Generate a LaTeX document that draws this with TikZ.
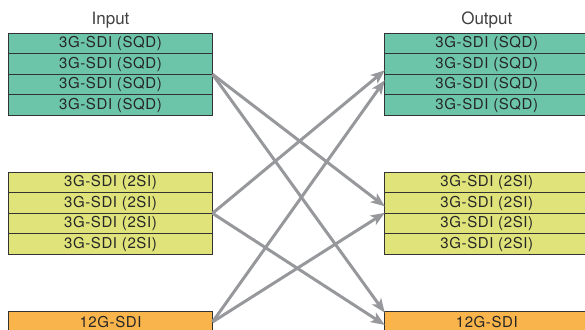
\documentclass[tikz,border=0pt]{standalone}
\usepackage{fontspec}
\setmainfont{TeX Gyre Heros}
\usetikzlibrary{arrows.meta,positioning}
\definecolor{sqdgreen}{HTML}{6CC5A9}
\definecolor{sisyellow}{HTML}{DFE37A}
\definecolor{twelveorange}{HTML}{F9B54B}
\definecolor{linkgray}{HTML}{97989B}
\tikzset{
	port/.style = {draw = black!80, line width = 0.9pt, minimum width = 204pt, minimum height = 20.5pt,
		inner sep = 0pt, outer sep = 0pt, text = black!85,
		font = \fontsize{15}{15}\selectfont\addfontfeature{LetterSpace=4}},
	sqd/.style = {port, fill = sqdgreen},
	twosi/.style = {port, fill = sisyellow},
	twelveg/.style = {port, fill = twelveorange},
	heading/.style = {inner sep = 0pt, text = black!75, font = \fontsize{17}{17}\selectfont},
	link/.style = {-{Stealth[length = 14pt, width = 11pt, inset = 3.5pt]}, line width = 3pt, color = linkgray}
}

\begin{document}
\begin{tikzpicture}
	\useasboundingbox (0pt,0pt) rectangle (585pt,-329pt);

	% inputs
	\node (in1) [sqd] at (110.5pt,-43.55pt) {3G-SDI (SQD)};
	\node (in2) [sqd, below=0pt of in1] {3G-SDI (SQD)};
	\node (in3) [sqd, below=0pt of in2] {3G-SDI (SQD)};
	\node (in4) [sqd, below=0pt of in3] {3G-SDI (SQD)};
	\node (in5) [twosi, below=57pt of in4] {3G-SDI (2SI)};
	\node (in6) [twosi, below=0pt of in5] {3G-SDI (2SI)};
	\node (in7) [twosi, below=0pt of in6] {3G-SDI (2SI)};
	\node (in8) [twosi, below=0pt of in7] {3G-SDI (2SI)};
	\node (in9) [twelveg, below=57.4pt of in8] {12G-SDI};
	\node (input) [heading, above=4.5pt of in1] {Input};

	% outputs
	\node (out1) [sqd, right=172.3pt of in1] {3G-SDI (SQD)};
	\node (out2) [sqd, below=0pt of out1] {3G-SDI (SQD)};
	\node (out3) [sqd, below=0pt of out2] {3G-SDI (SQD)};
	\node (out4) [sqd, below=0pt of out3] {3G-SDI (SQD)};
	\node (out5) [twosi, below=57pt of out4] {3G-SDI (2SI)};
	\node (out6) [twosi, below=0pt of out5] {3G-SDI (2SI)};
	\node (out7) [twosi, below=0pt of out6] {3G-SDI (2SI)};
	\node (out8) [twosi, below=0pt of out7] {3G-SDI (2SI)};
	\node (out9) [twelveg, below=57.4pt of out8] {12G-SDI};
	\node (output) [heading, above=4.5pt of out1] {Output};

	\draw [link] (in2.south east) -- ([yshift=7pt]out6.south west);
	\draw [link] (in2.south east) -- ([yshift=-1pt]out9.north west);
	\draw [link] (in6.south east) -- ([yshift=4pt]out2.south west);
	\draw [link] (in6.south east) -- ([yshift=-3pt]out9.west);
	\draw [link] (in9.east) -- ([yshift=-6pt]out2.south west);
	\draw [link] (in9.east) -- ([yshift=0.5pt]out6.south west);
\end{tikzpicture}
\end{document}
